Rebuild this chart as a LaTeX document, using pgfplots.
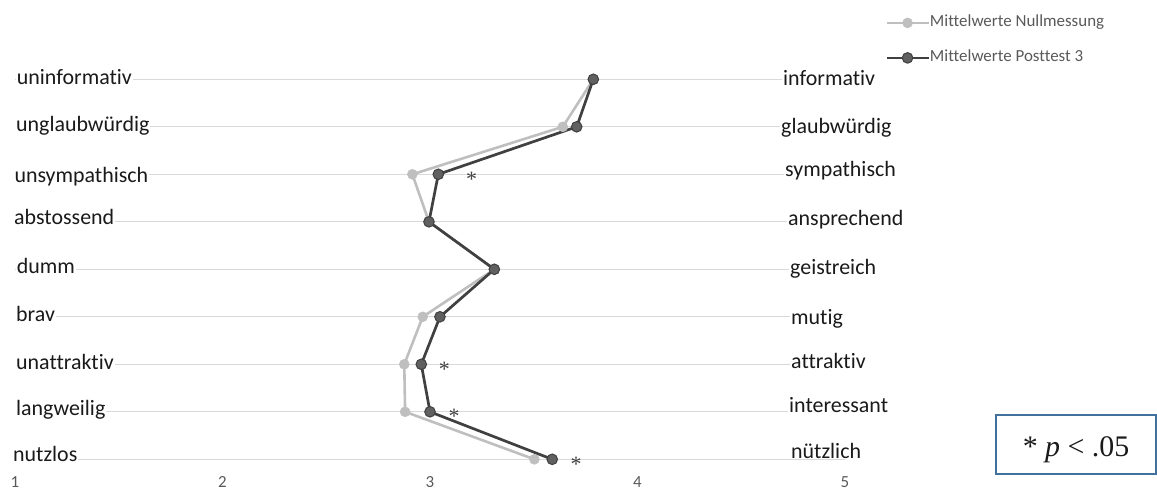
\documentclass[border=0pt]{standalone}
\usepackage{pgfplots}
\pgfplotsset{compat=1.18}
\usepackage{fontspec}
\setmainfont{Carlito}[Ligatures=NoCommon]
\newfontfamily\serif{Liberation Serif}
\definecolor{gridc}{HTML}{D9D9D9}
\definecolor{lightc}{HTML}{BFBFBF}
\definecolor{darkc}{HTML}{404040}
\definecolor{darkm}{HTML}{606060}
\definecolor{tickc}{HTML}{595959}
\definecolor{labc}{HTML}{1A1A1A}
\definecolor{boxc}{HTML}{41719C}
\tikzset{
  llab/.style={anchor=base west, inner xsep=1bp, inner ysep=0.5bp, fill=white, text=labc, font=\fontsize{22}{26}\selectfont},
  rlab/.style={llab, text width=130bp, align=left}
}
\begin{document}
\begin{tikzpicture}
\useasboundingbox (0,0) rectangle (1157bp,489bp);
\begin{axis}[
  at={(15bp,29.7bp)}, anchor=south west,
  scale only axis, width=830bp, height=380bp,
  xmin=1, xmax=5, ymin=1, ymax=9,
  clip=false,
  axis line style={draw=none},
  xtick={1,2,3,4,5}, xticklabels={1,2,3,4,5},
  ytick={1,2,3,4,5,6,7,8,9}, yticklabels={,,,,,,,,},
  major tick length=0pt, tick style={draw=none},
  ymajorgrids, major grid style={draw=gridc, line width=1.2bp},
  xticklabel style={font=\fontsize{17}{20}\selectfont, text=tickc, anchor=base, yshift=-27.7bp},
  legend style={at={(1.0482,1.170)}, anchor=north west, draw=none, fill=none,
    inner sep=0pt, row sep=19bp, font=\fontsize{17}{20}\selectfont, text=tickc,
    nodes={inner sep=0pt, text height=12bp, text depth=4bp}},
  legend cell align=left,
  legend image code/.code={\draw[mark repeat=2,mark phase=2] plot coordinates {(0bp,0bp) (21bp,0bp) (42bp,0bp)};},
]
\addplot[lightc, line width=2.6bp, mark=*, mark size=5bp, mark options={fill=lightc, draw=lightc, line width=0.5bp}]
  coordinates {(3.787,9) (3.640,8) (2.915,7) (2.995,6) (3.310,5) (2.965,4) (2.876,3) (2.880,2) (3.503,1)};
\addlegendentry{Mittelwerte Nullmessung}
\addplot[darkc, line width=2.7bp, mark=*, mark size=5.3bp, mark options={fill=darkm, draw=darkc, line width=1bp}]
  coordinates {(3.787,9) (3.707,8) (3.040,7) (2.995,6) (3.310,5) (3.048,4) (2.958,3) (3.000,2) (3.589,1)};
\addlegendentry{Mittelwerte Posttest 3}
\addplot[draw=none, mark=none, forget plot, nodes near coords={*},
  every node near coord/.append style={anchor=base, yshift=-12bp, inner sep=0pt, text=darkc, font=\serif\fontsize{22}{24}\selectfont}]
  coordinates {(3.201,7) (3.069,3) (3.116,2) (3.704,1)};
% left labels
\node[llab, xshift=0.7bp, yshift=-5.7bp] at (axis cs:1,9) {uninformativ};
\node[llab, xshift=0bp, yshift=-5bp] at (axis cs:1,8) {unglaubwürdig};
\node[llab, xshift=-1.7bp, yshift=-8.4bp] at (axis cs:1,7) {unsympathisch};
\node[llab, xshift=-2bp, yshift=-2.7bp] at (axis cs:1,6) {abstossend};
\node[llab, xshift=0.7bp, yshift=-4bp] at (axis cs:1,5) {dumm};
\node[llab, xshift=0bp, yshift=-5bp] at (axis cs:1,4) {brav};
\node[llab, xshift=0bp, yshift=-5bp] at (axis cs:1,3) {unattraktiv};
\node[llab, xshift=0bp, yshift=-3.4bp] at (axis cs:1,2) {langweilig};
\node[llab, xshift=-3bp, yshift=-2.4bp] at (axis cs:1,1) {nutzlos};
% right labels
\node[rlab, xshift=767bp, yshift=-6.7bp] at (axis cs:1,9) {informativ};
\node[rlab, xshift=765bp, yshift=-6.7bp] at (axis cs:1,8) {glaubwürdig};
\node[rlab, xshift=769bp, yshift=-2.4bp] at (axis cs:1,7) {sympathisch};
\node[rlab, xshift=772bp, yshift=-4bp] at (axis cs:1,6) {ansprechend};
\node[rlab, xshift=774bp, yshift=-5bp] at (axis cs:1,5) {geistreich};
\node[rlab, xshift=775bp, yshift=-7.3bp] at (axis cs:1,4) {mutig};
\node[rlab, xshift=775bp, yshift=-4.3bp] at (axis cs:1,3) {attraktiv};
\node[rlab, xshift=773bp, yshift=-1bp] at (axis cs:1,2) {interessant};
\node[rlab, fill=none, xshift=775bp, yshift=1bp] at (axis cs:1,1) {nützlich};
\end{axis}
\draw[boxc, line width=2bp] (996bp,14.7bp) rectangle (1156bp,74bp);
\node[font=\serif\fontsize{30}{34}\selectfont, text=labc, anchor=base, inner sep=0pt] at (1076bp,32.3bp) {* \textit{p} < .05};
\end{tikzpicture}
\end{document}
